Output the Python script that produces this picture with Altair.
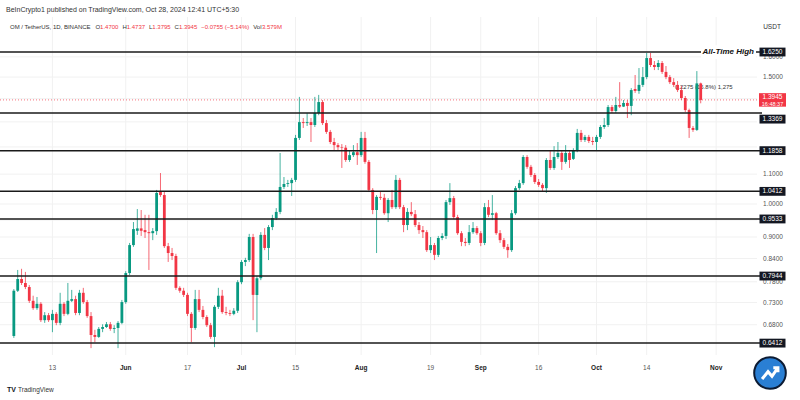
import altair as alt
import pandas as pd

# ---------------- data (OM / USDT daily) ----------------
dates = pd.date_range("2024-05-03", periods=179, freq="D").strftime("%Y-%m-%d").tolist()

open_ = [0.656, 0.758, 0.787, 0.777, 0.767, 0.734, 0.717, 0.727, 0.690, 0.701,
         0.690, 0.704, 0.684, 0.727, 0.704, 0.734, 0.738, 0.706, 0.753, 0.731,
         0.699, 0.658, 0.654, 0.671, 0.675, 0.681, 0.671, 0.673, 0.684, 0.731,
         0.802, 0.877, 0.918, 0.925, 0.920, 0.914, 0.911, 0.917, 1.039, 1.029,
         0.874, 0.855, 0.847, 0.765, 0.758, 0.748, 0.704, 0.673, 0.738, 0.713,
         0.697, 0.679, 0.654, 0.720, 0.746, 0.708, 0.706, 0.704, 0.711, 0.779,
         0.831, 0.836, 0.900, 0.748, 0.789, 0.906, 0.869, 0.929, 0.956, 0.975,
         1.056, 1.066, 1.069, 1.080, 1.235, 1.299, 1.295, 1.299, 1.287, 1.337,
         1.385, 1.295, 1.259, 1.219, 1.207, 1.199, 1.197, 1.151, 1.169, 1.180,
         1.169, 1.235, 1.144, 1.046, 0.981, 1.023, 1.020, 0.971, 1.013, 0.990,
         1.080, 0.990, 0.935, 0.975, 0.968, 0.935, 0.920, 0.914, 0.863, 0.877,
         0.850, 0.897, 0.903, 1.006, 1.019, 0.959, 0.911, 0.886, 0.883, 0.914,
         0.926, 0.911, 0.883, 0.990, 0.966, 0.971, 0.911, 0.891, 0.872, 0.863,
         0.971, 1.052, 1.069, 1.162, 1.126, 1.097, 1.073, 1.063, 1.052, 1.151,
         1.122, 1.162, 1.177, 1.144, 1.177, 1.155, 1.188, 1.255, 1.227, 1.239,
         1.223, 1.219, 1.239, 1.279, 1.287, 1.363, 1.346, 1.372, 1.365, 1.381,
         1.368, 1.444, 1.435, 1.463, 1.500, 1.594, 1.559, 1.549, 1.569, 1.525,
         1.500, 1.476, 1.463, 1.439, 1.403, 1.350, 1.275, 1.267, 1.4700]

close = [0.758, 0.787, 0.777, 0.767, 0.734, 0.717, 0.727, 0.690, 0.701, 0.690,
         0.704, 0.684, 0.727, 0.704, 0.734, 0.738, 0.706, 0.753, 0.731, 0.699,
         0.658, 0.654, 0.671, 0.675, 0.681, 0.671, 0.673, 0.684, 0.731, 0.802,
         0.877, 0.923, 0.925, 0.918, 0.914, 0.911, 0.917, 1.036, 1.029, 0.874,
         0.855, 0.847, 0.765, 0.758, 0.748, 0.704, 0.673, 0.738, 0.713, 0.697,
         0.679, 0.654, 0.720, 0.746, 0.708, 0.706, 0.704, 0.711, 0.779, 0.831,
         0.836, 0.900, 0.748, 0.789, 0.906, 0.869, 0.929, 0.956, 0.975, 1.056,
         1.066, 1.069, 1.080, 1.235, 1.299, 1.295, 1.299, 1.287, 1.337, 1.385,
         1.295, 1.259, 1.219, 1.207, 1.199, 1.197, 1.151, 1.169, 1.180, 1.169,
         1.235, 1.144, 1.046, 0.981, 1.023, 1.020, 0.971, 1.013, 0.990, 1.080,
         0.990, 0.935, 0.975, 0.968, 0.935, 0.920, 0.914, 0.863, 0.877, 0.850,
         0.897, 0.903, 1.006, 1.019, 0.959, 0.911, 0.886, 0.883, 0.914, 0.926,
         0.911, 0.883, 0.990, 0.966, 0.971, 0.911, 0.891, 0.872, 0.863, 0.971,
         1.052, 1.069, 1.162, 1.126, 1.097, 1.073, 1.063, 1.052, 1.151, 1.122,
         1.162, 1.177, 1.144, 1.177, 1.151, 1.188, 1.255, 1.227, 1.239, 1.223,
         1.219, 1.239, 1.279, 1.287, 1.363, 1.346, 1.372, 1.365, 1.381, 1.368,
         1.439, 1.435, 1.463, 1.500, 1.594, 1.559, 1.549, 1.569, 1.525, 1.500,
         1.476, 1.463, 1.439, 1.403, 1.350, 1.275, 1.267, 1.470, 1.3945]

high = [0.762, 0.810, 0.813, 0.805, 0.772, 0.746, 0.743, 0.731, 0.708, 0.706,
        0.713, 0.708, 0.753, 0.731, 0.777, 0.760, 0.746, 0.760, 0.765, 0.736,
        0.708, 0.669, 0.675, 0.681, 0.686, 0.686, 0.679, 0.688, 0.736, 0.807,
        0.883, 0.944, 0.984, 0.981, 0.966, 0.966, 0.926, 1.046, 1.104, 1.039,
        0.883, 0.869, 0.853, 0.769, 0.765, 0.753, 0.708, 0.760, 0.760, 0.722,
        0.701, 0.684, 0.724, 0.765, 0.760, 0.720, 0.713, 0.717, 0.784, 0.836,
        0.842, 0.909, 0.909, 0.794, 0.914, 0.926, 0.935, 0.966, 0.987, 1.177,
        1.090, 1.080, 1.087, 1.247, 1.408, 1.316, 1.337, 1.316, 1.408, 1.417,
        1.394, 1.308, 1.267, 1.235, 1.215, 1.211, 1.207, 1.188, 1.207, 1.215,
        1.259, 1.259, 1.151, 1.052, 1.029, 1.039, 1.033, 1.019, 1.046, 1.097,
        1.087, 0.997, 0.987, 1.006, 0.981, 0.944, 0.932, 0.920, 0.900, 0.883,
        0.903, 0.911, 1.013, 1.069, 1.026, 0.966, 0.917, 0.897, 0.935, 0.944,
        0.932, 0.917, 1.003, 1.013, 1.029, 0.975, 0.920, 0.897, 0.880, 0.981,
        1.059, 1.080, 1.169, 1.169, 1.133, 1.104, 1.083, 1.069, 1.158, 1.188,
        1.203, 1.219, 1.184, 1.207, 1.184, 1.195, 1.271, 1.267, 1.247, 1.247,
        1.239, 1.247, 1.287, 1.316, 1.372, 1.372, 1.408, 1.476, 1.394, 1.394,
        1.448, 1.510, 1.544, 1.549, 1.620, 1.620, 1.579, 1.584, 1.579, 1.554,
        1.510, 1.495, 1.481, 1.458, 1.412, 1.356, 1.283, 1.529, 1.4737]

low = [0.652, 0.755, 0.772, 0.762, 0.729, 0.713, 0.713, 0.686, 0.684, 0.686,
       0.664, 0.679, 0.679, 0.699, 0.701, 0.731, 0.701, 0.701, 0.727, 0.695,
       0.631, 0.643, 0.652, 0.664, 0.673, 0.667, 0.662, 0.631, 0.681, 0.727,
       0.797, 0.872, 0.906, 0.903, 0.897, 0.810, 0.891, 0.906, 1.023, 0.869,
       0.831, 0.836, 0.760, 0.753, 0.743, 0.699, 0.643, 0.669, 0.708, 0.692,
       0.675, 0.650, 0.633, 0.715, 0.704, 0.701, 0.699, 0.701, 0.706, 0.774,
       0.820, 0.831, 0.690, 0.664, 0.784, 0.863, 0.836, 0.920, 0.950, 0.968,
       1.049, 1.056, 1.026, 1.073, 1.227, 1.275, 1.283, 1.219, 1.279, 1.328,
       1.287, 1.251, 1.211, 1.188, 1.188, 1.122, 1.144, 1.144, 1.162, 1.133,
       1.162, 1.137, 1.039, 0.968, 0.855, 1.013, 0.966, 0.944, 0.984, 0.984,
       0.984, 0.914, 0.920, 0.962, 0.929, 0.909, 0.897, 0.858, 0.855, 0.836,
       0.844, 0.891, 0.894, 0.997, 0.953, 0.906, 0.874, 0.874, 0.877, 0.909,
       0.906, 0.874, 0.877, 0.959, 0.950, 0.906, 0.883, 0.866, 0.842, 0.858,
       0.966, 1.046, 1.063, 1.119, 1.090, 1.066, 1.056, 1.042, 1.036, 1.115,
       1.115, 1.155, 1.115, 1.137, 1.122, 1.151, 1.180, 1.219, 1.219, 1.215,
       1.207, 1.188, 1.231, 1.271, 1.279, 1.337, 1.337, 1.359, 1.363, 1.316,
       1.328, 1.426, 1.422, 1.453, 1.490, 1.549, 1.534, 1.534, 1.515, 1.490,
       1.467, 1.453, 1.430, 1.394, 1.341, 1.235, 1.259, 1.263, 1.3795]

level_values = [1.6250, 1.3369, 1.1858, 1.0412, 0.9533, 0.7944, 0.6412]
level_labels = ["1.6250", "1.3369", "1.1858", "1.0412", "0.9533", "0.7944", "0.6412"]

grid_values = [1.6, 1.5, 1.4, 1.3, 1.2, 1.1, 1.0, 0.95, 0.9, 0.84, 0.78, 0.73, 0.68]
tick_label_values = [1.6, 1.5, 1.1, 1.0, 0.9, 0.84, 0.78, 0.73, 0.68]

xtick_dates = ["2024-05-13", "2024-06-01", "2024-06-17", "2024-07-01", "2024-07-15",
               "2024-08-01", "2024-08-19", "2024-09-01", "2024-09-16", "2024-10-01",
               "2024-10-14", "2024-11-01"]
xtick_labels = ["13", "Jun", "17", "Jul", "15", "Aug", "19", "Sep", "16", "Oct", "14", "Nov"]
xtick_month = [False, True, False, True, False, True, False, True, False, True, False, True]

last_price = 1.3945

# ---------------- layout ----------------
W, H = 757, 338
TOP = 17
FONT = "Liberation Sans"
GREEN = "#089981"
RED = "#f23645"

df = pd.DataFrame({"date": dates, "open": open_, "high": high, "low": low, "close": close})

xs = alt.Scale(type="utc",
               domain=[alt.DateTime(year=2024, month=4, date=30, hours=17, utc=True),
                       alt.DateTime(year=2024, month=11, date=10, hours=7, utc=True)])
ys = alt.Scale(type="log", domain=[0.6173, 1.8174], nice=False, zero=False)

X = alt.X("date:T", scale=xs, axis=None)


def Y(f):
    return alt.Y(f, scale=ys, axis=None)


def txt(s, x, y, **kw):
    params = dict(font=FONT, fontSize=6.5, color="#333333", align="left", baseline="middle")
    params.update(kw)
    return alt.Chart(pd.DataFrame({"t": [s]})).mark_text(**params).encode(
        text="t:N", x=alt.value(x), y=alt.value(y - TOP))


# grid
xt = pd.DataFrame({"date": xtick_dates, "lab": xtick_labels, "month": xtick_month})
vgrid = alt.Chart(xt).mark_rule(color="#f1f1f1", strokeWidth=1).encode(
    x=X, y=alt.value(0), y2=alt.value(H))
yg = pd.DataFrame({"v": grid_values})
hgrid = alt.Chart(yg).mark_rule(color="#f1f1f1", strokeWidth=1).encode(
    y=Y("v:Q"), x=alt.value(0), x2=alt.value(W))
yt = pd.DataFrame({"v": tick_label_values})
ylabels = alt.Chart(yt).mark_text(font=FONT, fontSize=6.5, color="#555555", align="center",
                                  baseline="middle").encode(
    y=Y("v:Q"), x=alt.value(773), text=alt.Text("v:Q", format=".4f"))

# x labels
xlab_day = alt.Chart(xt).transform_filter("!datum.month").mark_text(
    font=FONT, fontSize=6.5, color="#555555", baseline="middle").encode(
    x=X, y=alt.value(368 - TOP), text="lab:N")
xlab_mon = alt.Chart(xt).transform_filter("datum.month").mark_text(
    font=FONT, fontSize=6.5, color="#222222", fontWeight="bold", baseline="middle").encode(
    x=X, y=alt.value(368 - TOP), text="lab:N")

# measurement annotation (behind candles)
annot = txt("0.2275 (16.8%) 1,275", 675, 87, fontSize=6, color="#333333")

# current price dotted line
pl = pd.DataFrame({"v": [last_price]})
price_line = alt.Chart(pl).mark_rule(color=RED, strokeDash=[1, 2], strokeWidth=1, opacity=0.7).encode(
    y=Y("v:Q"), x=alt.value(0), x2=alt.value(W))

# candles
cond = alt.condition("datum.close >= datum.open", alt.value(GREEN), alt.value(RED))
base = alt.Chart(df).encode(x=X)
wicks = base.mark_rule(strokeWidth=1, opacity=0.75).encode(y=Y("low:Q"), y2="high:Q", color=cond)
bodies = base.mark_bar(width=2.8).encode(y=Y("open:Q"), y2="close:Q", color=cond)

# key levels
lv = pd.DataFrame({"v": level_values, "lab": level_labels})
level_lines = alt.Chart(lv).mark_rule(color="#1a1a1a", strokeWidth=1.5).encode(
    y=Y("v:Q"), x=alt.value(0), x2=alt.value(762))

BOX = "M-1,-0.34H1V0.34H-1Z"
lv_main = alt.Chart(lv).transform_filter("datum.lab != '1.3369'")
lv_shift = alt.Chart(lv).transform_filter("datum.lab == '1.3369'")
boxes = lv_main.mark_point(shape=BOX, filled=True, size=676, color="#131722", opacity=1,
                           strokeWidth=0).encode(y=Y("v:Q"), x=alt.value(772.5))
box_txt = lv_main.mark_text(font=FONT, fontSize=6.5, color="white", align="center",
                            baseline="middle").encode(y=Y("v:Q"), x=alt.value(772.5), text="lab:N")
box_s = lv_shift.mark_point(shape=BOX, filled=True, size=676, color="#131722", opacity=1,
                            strokeWidth=0, yOffset=6).encode(y=Y("v:Q"), x=alt.value(772.5))
box_s_txt = lv_shift.mark_text(font=FONT, fontSize=6.5, color="white", align="center",
                               baseline="middle", yOffset=6).encode(
    y=Y("v:Q"), x=alt.value(772.5), text="lab:N")

# price tag
red_box = alt.Chart(pl).mark_point(shape="M-1,-0.5H1V0.5H-1Z", filled=True, size=729, color=RED,
                                   opacity=1, strokeWidth=0).encode(y=Y("v:Q"), x=alt.value(772.5))
red_t1 = alt.Chart(pl).mark_text(font=FONT, fontSize=6.5, color="white", align="center",
                                 baseline="middle", yOffset=-3).encode(
    y=Y("v:Q"), x=alt.value(772.5), text=alt.Text("v:Q", format=".4f"))
red_t2 = txt("16:48:37", 772.5, 103.5, color="white", align="center", fontSize=5.5)

# all-time-high label
ath_bg = alt.Chart(pd.DataFrame({"v": [1.625]})).mark_point(
    shape="M-1,-0.25H1V0.25H-1Z", filled=True, size=3025, color="white", opacity=1,
    strokeWidth=0).encode(y=Y("v:Q"), x=alt.value(728.5))
ath_txt = txt("All-Time High", 754, 51.5, align="right", fontSize=8, fontStyle="italic",
              fontWeight="bold", color="#111111")

# header / footer
hdr1 = txt("BeInCrypto1 published on TradingView.com, Oct 28, 2024 12:41 UTC+5:30", 6, 9.5,
           fontSize=7, color="#333333")
HY = 27
hdr = [
    txt("OM / TetherUS, 1D, BINANCE", 10, HY, fontSize=6, color="#333333"),
    txt("O", 95.4, HY, fontSize=6, color="#333333"), txt("1.4700", 100.1, HY, fontSize=6, color=RED),
    txt("H", 122.4, HY, fontSize=6, color="#333333"), txt("1.4737", 126.7, HY, fontSize=6, color=RED),
    txt("L", 149, HY, fontSize=6, color="#333333"), txt("1.3795", 152.3, HY, fontSize=6, color=RED),
    txt("C", 174.6, HY, fontSize=6, color="#333333"), txt("1.3945", 178.9, HY, fontSize=6, color=RED),
    txt("\u22120.0755 (\u22125.14%)", 201.2, HY, fontSize=6, color=RED),
    txt("Vol", 253.2, HY, fontSize=6, color="#333333"), txt("3.579M", 261.9, HY, fontSize=6, color=RED),
]
usdt = txt("USDT", 772, 27, align="center", color="#333333")
tv_logo = txt("TV", 7, 390, fontSize=7, fontWeight="bold", color="#131722")
tv_text = txt("TradingView", 18, 390, fontSize=6.5, color="#333333")

logo_df = pd.DataFrame({"k": [1]})
logo_circle = alt.Chart(logo_df).mark_point(shape="circle", filled=True, size=1000, color="#2a7fd4",
                                            opacity=1, stroke="#0c1b33", strokeWidth=2).encode(
    x=alt.value(770), y=alt.value(373 - TOP))
logo_arrow = alt.Chart(logo_df).mark_point(
    shape="M-0.6,0.45L-0.15,-0.1L0.15,0.25L0.6,-0.4M0.25,-0.4L0.6,-0.4L0.6,-0.05",
    filled=False, size=700, color="white", opacity=1, strokeWidth=3).encode(
    x=alt.value(770), y=alt.value(373 - TOP))

chart = alt.layer(
    vgrid, hgrid, ylabels, annot, price_line, wicks, bodies, level_lines, ath_bg, ath_txt,
    boxes, box_txt, box_s, box_s_txt, red_box, red_t1, red_t2,
    xlab_day, xlab_mon, hdr1, *hdr, usdt, tv_logo, tv_text, logo_circle, logo_arrow,
).properties(
    width=W, height=H,
    padding={"left": 0, "top": TOP, "right": 800 - W, "bottom": 400 - TOP - H},
    autosize=alt.AutoSizeParams(type="none"),
    background="white",
).configure_view(stroke=None)

chart.save("out.html", embed_options={"renderer": "svg", "actions": False})
